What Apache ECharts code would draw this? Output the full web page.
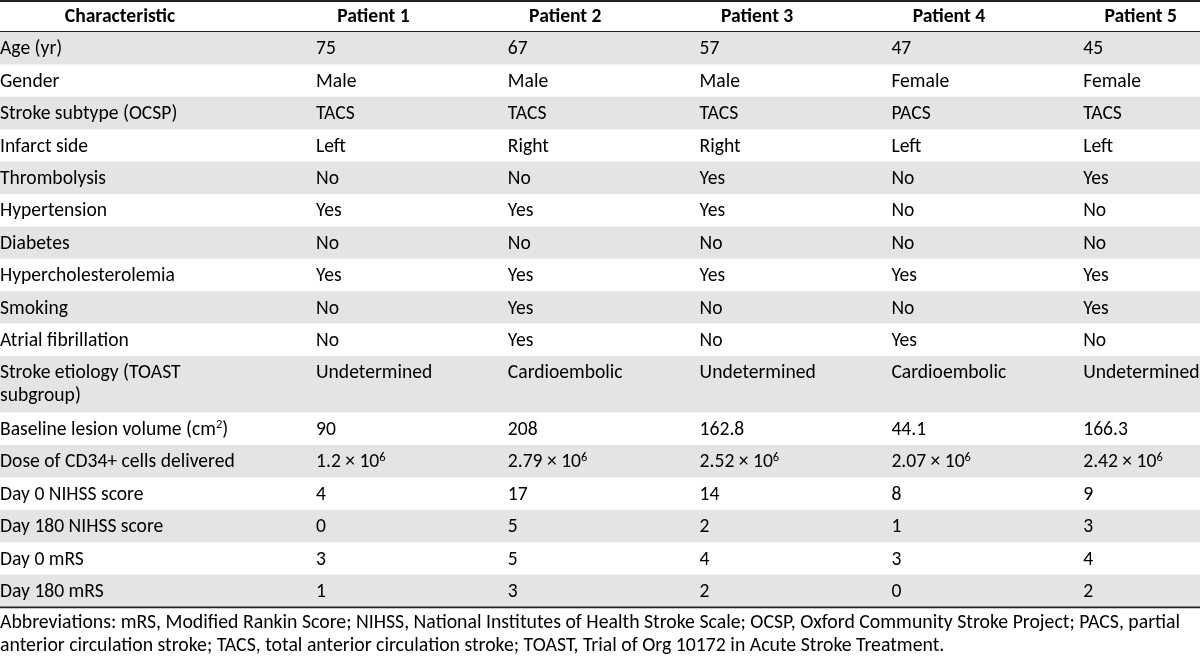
<!DOCTYPE html>
<html><head><meta charset="utf-8">
<script src="https://cdn.jsdelivr.net/npm/echarts@6/dist/echarts.min.js"></script>
<style>html,body{margin:0;padding:0;background:#fff}#c{width:1200px;height:658px}</style>
</head><body><div id="c"></div>
<script>
const headers = ['Characteristic', 'Patient 1', 'Patient 2', 'Patient 3', 'Patient 4', 'Patient 5'];
const characteristics = ['Age (yr)', 'Gender', 'Stroke subtype (OCSP)', 'Infarct side', 'Thrombolysis', 'Hypertension', 'Diabetes', 'Hypercholesterolemia', 'Smoking', 'Atrial fibrillation', 'Stroke etiology (TOAST\nsubgroup)', 'Baseline lesion volume (cm²)', 'Dose of CD34+ cells delivered', 'Day 0 NIHSS score', 'Day 180 NIHSS score', 'Day 0 mRS', 'Day 180 mRS'];
const patient1 = ['75', 'Male', 'TACS', 'Left', 'No', 'Yes', 'No', 'Yes', 'No', 'No', 'Undetermined', '90', '1.2 × 10⁶', '4', '0', '3', '1'];
const patient2 = ['67', 'Male', 'TACS', 'Right', 'No', 'Yes', 'No', 'Yes', 'Yes', 'Yes', 'Cardioembolic', '208', '2.79 × 10⁶', '17', '5', '5', '3'];
const patient3 = ['57', 'Male', 'TACS', 'Right', 'Yes', 'Yes', 'No', 'Yes', 'No', 'No', 'Undetermined', '162.8', '2.52 × 10⁶', '14', '2', '4', '2'];
const patient4 = ['47', 'Female', 'PACS', 'Left', 'No', 'No', 'No', 'Yes', 'No', 'Yes', 'Cardioembolic', '44.1', '2.07 × 10⁶', '8', '1', '3', '0'];
const patient5 = ['45', 'Female', 'TACS', 'Left', 'Yes', 'No', 'No', 'Yes', 'Yes', 'No', 'Undetermined', '166.3', '2.42 × 10⁶', '9', '3', '4', '2'];
const footnote = 'Abbreviations: mRS, Modified Rankin Score; NIHSS, National Institutes of Health Stroke Scale; OCSP, Oxford Community Stroke Project; PACS, partial\nanterior circulation stroke; TACS, total anterior circulation stroke; TOAST, Trial of Org 10172 in Acute Stroke Treatment.';

// ---- layout (styles / sizes) ----
const FONT = 'Carlito, Lato, sans-serif';
const FS = 19.6;
const FOOT_FS = 19.8;
const SUP_FS = 12.5;
const TABLE_W = 1200;
const TOP = 1;
const HEADER_H = 31;
const ROW_H = 32.4;
const ROW_EXTRA_LINE = 24.2;
const TEXT_LH = 23;
const FIRST_COL_W = 316;
const COL_W = 191.8;
const HEADER_CENTER_0 = 120;
const HEADER_OFFSET = 57.5;
const GRAY = '#e4e4e4';
const RULE = '#222';

const columns = [characteristics, patient1, patient2, patient3, patient4, patient5];
const rows = characteristics.map((_, i) => columns.map(col => col[i]));

// row boundaries derived from line counts
const rowData = [];
let y = TOP + HEADER_H;
rowData.push([0, TOP, y, -1]);
rows.forEach((r, i) => {
  const lines = Math.max(...r.map(c => c.split('\n').length));
  const h = ROW_H + (lines - 1) * ROW_EXTRA_LINE;
  rowData.push([0, y, y + h, i]);
  y += h;
});
const TABLE_BOTTOM = y;

const supMap = {'⁰':'0','¹':'1','²':'2','³':'3','⁴':'4','⁵':'5','⁶':'6','⁷':'7','⁸':'8','⁹':'9'};
function toRich(s) {
  return s.replace(/[⁰¹²³⁴⁵⁶⁷⁸⁹]+/g, m => '{sup|' + m.split('').map(c => supMap[c]).join('') + '}');
}
function textX(ci) { return ci === 0 ? 0 : FIRST_COL_W + (ci - 1) * COL_W; }

function renderItem(params, api) {
  const top = api.value(1), bottom = api.value(2), idx = api.value(3);
  const p0 = api.coord([0, top]);
  const p1 = api.coord([TABLE_W, bottom]);
  const children = [];
  if (idx === -1) {
    children.push({type: 'rect', shape: {x: p0[0], y: p0[1] - 1, width: p1[0] - p0[0], height: 2}, style: {fill: RULE}});
    children.push({type: 'rect', shape: {x: p0[0], y: p1[1] - 1, width: p1[0] - p0[0], height: 1.6}, style: {fill: RULE}});
    headers.forEach((h, ci) => {
      const cx = ci === 0 ? HEADER_CENTER_0 : textX(ci) + HEADER_OFFSET;
      const pt = api.coord([cx, (top + bottom) / 2 + 1]);
      children.push({type: 'text', x: pt[0], y: pt[1], style: {
        text: h, fill: '#000', fontFamily: FONT, fontSize: FS, fontWeight: 'bold',
        align: 'center', verticalAlign: 'middle'}});
    });
  } else {
    if (idx % 2 === 0) {
      children.push({type: 'rect', shape: {x: p0[0], y: p0[1], width: p1[0] - p0[0], height: p1[1] - p0[1]}, style: {fill: GRAY}});
    }
    rows[idx].forEach((cell, ci) => {
      const pt = api.coord([textX(ci), top + (ROW_H - TEXT_LH) / 2 + 1.2]);
      children.push({type: 'text', x: pt[0], y: pt[1], style: {
        text: toRich(cell), fill: '#000', fontFamily: FONT, fontSize: FS,
        align: 'left', verticalAlign: 'top', lineHeight: TEXT_LH,
        rich: {sup: {fontFamily: FONT, fontSize: SUP_FS, fill: '#000', verticalAlign: 'top', lineHeight: 15}}}});
    });
    if (idx === rows.length - 1) {
      children.push({type: 'rect', shape: {x: p0[0], y: p1[1] - 0.5, width: p1[0] - p0[0], height: 1.8}, style: {fill: RULE}});
    }
  }
  return {type: 'group', children};
}

const chart = echarts.init(document.getElementById('c'), null, {renderer: 'canvas'});
chart.setOption({
  backgroundColor: '#fff',
  animation: false,
  title: {
    text: footnote, left: 0, top: TABLE_BOTTOM + 5, padding: 0,
    textStyle: {fontFamily: FONT, fontSize: FOOT_FS, fontWeight: 'normal', color: '#000', lineHeight: 23}
  },
  grid: {left: 0, right: 0, top: 0, bottom: 0},
  xAxis: {type: 'value', min: 0, max: TABLE_W, show: false},
  yAxis: {type: 'value', min: 0, max: 658, inverse: true, show: false},
  series: [{
    type: 'custom', clip: false, renderItem,
    encode: {x: 0, y: 1},
    data: rowData
  }]
});
</script></body></html>
